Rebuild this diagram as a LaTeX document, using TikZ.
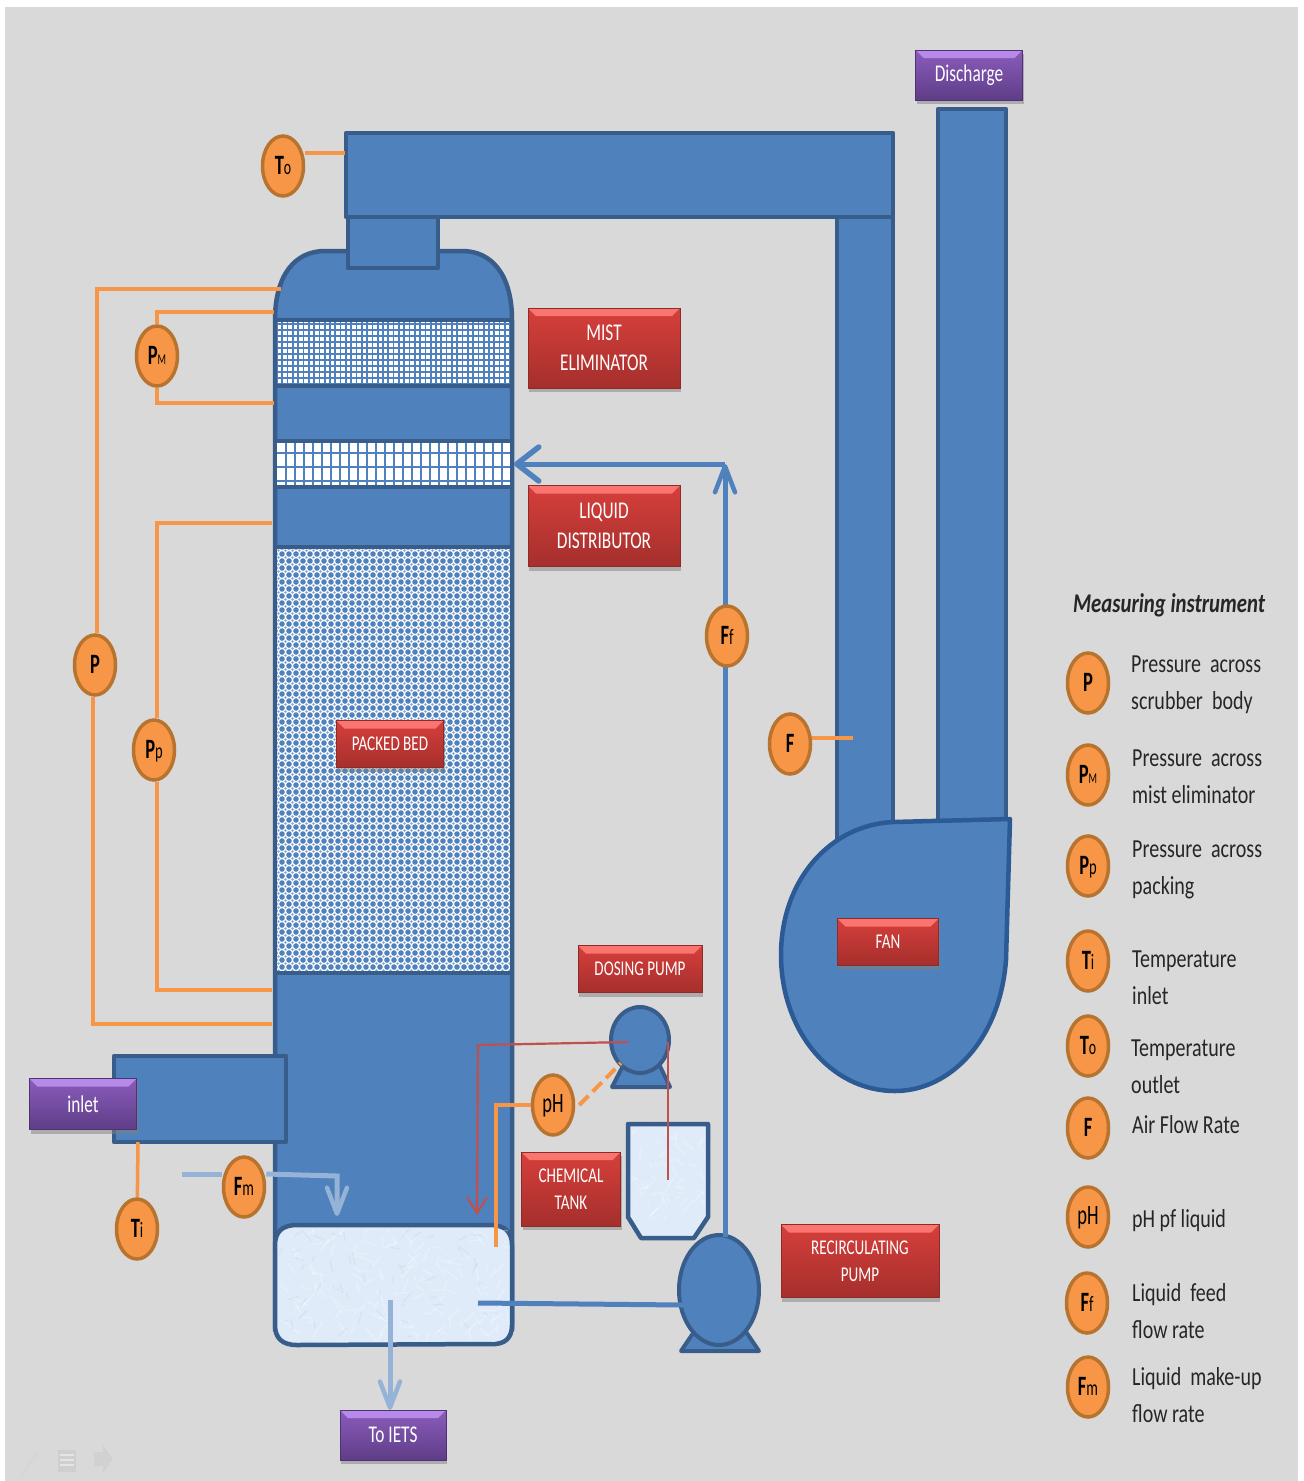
\documentclass[tikz,border=0pt]{standalone}
\usepackage{fontspec}
\setmainfont[FakeStretch=0.77]{Carlito}
\newfontfamily\instfont[FakeStretch=0.66]{Carlito}
\newfontfamily\boxfont[FakeStretch=0.72]{Carlito}
\usetikzlibrary{arrows.meta,shapes.geometric,shadows}
\definecolor{bgGray}{HTML}{D9D9D9}
\definecolor{steel}{HTML}{4F81BD}
\definecolor{steelDark}{HTML}{385D8A}
\definecolor{fanEdge}{HTML}{2B5A94}
\definecolor{steelLight}{HTML}{95B3D7}
\definecolor{liquid}{HTML}{DFEBF8}
\definecolor{instFill}{HTML}{F79646}
\definecolor{instEdge}{HTML}{B8732F}
\definecolor{dose}{HTML}{C0504D}
\definecolor{redTop}{HTML}{D63F3B}
\definecolor{redBot}{HTML}{A52F2C}
\definecolor{redEdge}{HTML}{8E2A27}
\definecolor{redLip}{HTML}{FA7570}
\definecolor{purTop}{HTML}{8A5CBC}
\definecolor{purBot}{HTML}{5F3D87}
\definecolor{purEdge}{HTML}{4F3272}
\definecolor{purLip}{HTML}{B58AE8}
\pgfdeclarelayer{front}
\pgfsetlayers{main,front}
\newcommand{\sub}[2]{{\fontsize{#1}{#1}\selectfont\mdseries #2}}
\tikzset{
  vessel/.style={draw=steelDark, fill=steel, line width=4.5pt, line join=round},
  tank/.style={draw=steelDark, fill=liquid, line width=4.5pt, line join=round},
  inst/.style={ellipse, draw=instEdge, fill=instFill, line width=3.5pt, minimum width=41pt, minimum height=60pt,
    inner sep=0pt, font=\instfont\fontsize{28}{28}\selectfont\bfseries, text=black, text depth=2pt},
  legendtext/.style={anchor=west, align=left, inner sep=0pt, text=black!85, font=\fontsize{26}{37}\selectfont},
  bevel/.style={path picture={
    \fill[#1] (path picture bounding box.north west) -- (path picture bounding box.north east)
      -- ([xshift=-8pt,yshift=-8pt]path picture bounding box.north east)
      -- ([xshift=8pt,yshift=-8pt]path picture bounding box.north west) -- cycle;}},
  redbox/.style={draw=redEdge, top color=redTop, bottom color=redBot, bevel=redLip,
    drop shadow={shadow xshift=1pt, shadow yshift=-4pt, opacity=.5}, inner sep=0pt, align=center, text=white,
    font=\boxfont\fontsize{24}{30}\selectfont},
  smallred/.style={redbox, font=\boxfont\fontsize{21}{27}\selectfont},
  purplebox/.style={draw=purEdge, top color=purTop, bottom color=purBot,
    bevel=purLip, drop shadow={shadow xshift=1pt, shadow yshift=-4pt, opacity=.5}, inner sep=0pt, align=center,
    text=white, font=\boxfont\fontsize{24}{30}\selectfont},
  wire/.style={draw=instFill, line width=3.5pt},
  pipe/.style={draw=steel, line width=5pt},
  feed/.style={draw=steelLight, line width=5pt},
  barb/.style={-{Straight Barb[round,length=26pt,width=20pt,line width=4.5pt]}},
  barbwide/.style={-{Straight Barb[round,length=22pt,width=34pt,line width=5.5pt]}},
}
\begin{document}
\begin{tikzpicture}[x=1pt,y=-1pt]
    \useasboundingbox (0,0) rectangle (1304,1481);
    \fill[bgGray] (5,7) rectangle (1298,1481);

    % Instruments and labels, on top of everything
    \begin{pgfonlayer}{front}
        \node[inst] (instTo) at (283,166) {T\sub{21}{o}};
        \node[inst] (instPM) at (157,356) {P\sub{15}{M}};
        \node[inst] (instP) at (95,665) {P};
        \node[inst] (instPp) at (154,750) {P\sub{22}{p}};
        \node[inst] (instFf) at (727,636) {F\sub{22}{f}};
        \node[inst] (instF) at (790,744) {F};
        \node[inst] (instPH) at (553,1105) {\mdseries pH};
        \node[inst] (instFm) at (244,1187) {F\sub{22}{m}};
        \node[inst] (instTi) at (137,1229) {T\sub{22}{i}};

        \node[redbox, minimum width=152pt, minimum height=80pt] (boxMist) at (604,348) {MIST\\ELIMINATOR};
        \node[redbox, minimum width=152pt, minimum height=81pt] (boxLiquid) at (604,526) {LIQUID\\DISTRIBUTOR};
        \node[smallred, minimum width=107pt, minimum height=47pt] (boxBed) at (390,744) {PACKED BED};
        \node[smallred, minimum width=124pt, minimum height=47pt] (boxDosing) at (640,969) {DOSING PUMP};
        \node[smallred, minimum width=99pt, minimum height=74pt] (boxChem) at (571,1189) {CHEMICAL\\TANK};
        \node[smallred, minimum width=158pt, minimum height=73pt] (boxRecirc) at (860,1261) {RECIRCULATING\\PUMP};
        \node[smallred, minimum width=101pt, minimum height=47pt] (boxFan) at (888,942) {FAN};

        \node[purplebox, minimum width=107pt, minimum height=50pt] (boxDischarge) at (969,75) {Discharge};
        \node[purplebox, minimum width=107pt, minimum height=51pt] (boxInlet) at (83,1104) {inlet};
        \node[purplebox, minimum width=106pt, minimum height=50pt] (boxIets) at (393,1435) {To IETS};
    \end{pgfonlayer}

    % Ducts and fan
    \draw[vessel] (938,109) rectangle (1006,830);
    \draw[vessel] (837,215) rectangle (893,850);
    \draw[vessel, draw=fanEdge] (893,822) -- (1010,819) -- (1006,960)
        .. controls (1000,1040) and (950,1091) .. (895,1091)
        .. controls (830,1091) and (781,1030) .. (781,955)
        .. controls (781,880) and (830,825) .. (893,822) -- cycle;

    % Column
    \draw[vessel] (275,320) .. controls (275,275) and (295,251) .. (325,251) -- (462,251)
        .. controls (492,251) and (512,275) .. (512,320) -- (512,1330) -- (275,1330) -- cycle;
    \draw[vessel] (114,1056) rectangle (286,1142);
    \draw[vessel] (348,210) rectangle (438,268);
    \draw[vessel] (346,133) rectangle (893,217);

    % Mist eliminator
    \fill[white] (275,320) rectangle (512,386);
    \begin{scope}
        \clip (275,320) rectangle (512,386);
        \foreach \xpos in {277,282.3,...,512}
            \draw[steel, line width=1.7pt] (\xpos,320) -- (\xpos,386);
        \foreach \ypos in {324,330,...,386}
            \draw[steel, line width=1.6pt] (275,\ypos) -- (512,\ypos);
    \end{scope}
    \draw[steelDark, line width=4pt] (275,320) rectangle (512,386);

    % Liquid distributor
    \fill[white] (275,441) rectangle (512,487);
    \begin{scope}
        \clip (275,441) rectangle (512,487);
        \foreach \xpos in {286,295,...,512}
            \draw[steel, line width=1.3pt] (\xpos,441) -- (\xpos,487);
        \foreach \ypos in {453,467,481}
            \draw[steel, line width=1.5pt] (275,\ypos) -- (512,\ypos);
    \end{scope}
    \draw[steelDark, line width=4pt] (275,441) rectangle (512,487);

    % Packed bed
    \fill[white] (275,547) rectangle (512,973);
    \begin{scope}
        \clip (275,547) rectangle (512,973);
        \foreach \row in {0,...,61} {
            \pgfmathsetmacro{\ypos}{547+\row*7}
            \foreach \col in {0,...,34} {
                \fill[steel] (275+\col*7,\ypos) circle (2.8pt);
                \fill[steel!70!white] (278.5+\col*7,\ypos+3.5) circle (1.3pt);
            }
        }
    \end{scope}
    \draw[steelDark, line width=4pt] (275,547) rectangle (512,973);

    % Sump, chemical tank, pumps
    \draw[tank] (297,1225) -- (490,1225) .. controls (505,1225) and (512,1232) .. (512,1245) -- (512,1325)
        .. controls (512,1338) and (505,1345) .. (490,1344) -- (297,1345)
        .. controls (282,1345) and (275,1338) .. (275,1325) -- (275,1245)
        .. controls (275,1232) and (282,1225) .. (297,1225) -- cycle;
    \draw[tank] (628,1124) -- (708,1124) -- (708,1217) -- (694,1238) -- (641,1238) -- (628,1217) -- cycle;
    \pgfmathsetseed{7}
    \begin{scope}
        \clip (279,1229) rectangle (508,1341);
        \foreach \n in {1,...,160}
            \draw[white, opacity=.28, line width=1.5pt] (279+229*rnd,1229+112*rnd) -- ++(30*rnd-15,30*rnd-15);
        \foreach \n in {1,...,60}
            \draw[steelLight, opacity=.14, line width=1.2pt] (279+229*rnd,1229+112*rnd) -- ++(24*rnd-12,24*rnd-12);
    \end{scope}
    \begin{scope}
        \clip (631,1127) rectangle (705,1222);
        \foreach \n in {1,...,60}
            \draw[white, opacity=.28, line width=1.5pt] (631+74*rnd,1127+95*rnd) -- ++(24*rnd-12,24*rnd-12);
    \end{scope}

    \draw[vessel, line width=4pt] (612,1087) -- (625,1062) -- (658,1062) -- (670,1087) -- cycle;
    \node[ellipse, draw=steelDark, fill=steel, line width=4pt, minimum width=58pt, minimum height=66pt] (pumpDosing) at (640,1040) {};
    \draw[vessel, line width=4pt] (681,1351) -- (702,1320) -- (738,1320) -- (759,1351) -- cycle;
    \node[ellipse, draw=steelDark, fill=steel, line width=4pt, minimum width=80pt, minimum height=110pt] (pumpRecirc) at (719,1290) {};

    % Named ends of the connectors
    \coordinate (tapTo) at (345,153);
    \coordinate (tapPTop) at (281,289);
    \coordinate (tapPBot) at (272,1024);
    \coordinate (tapPMTop) at (274,312);
    \coordinate (tapPMBot) at (274,403);
    \coordinate (tapPpTop) at (272,523);
    \coordinate (tapPpBot) at (272,990);
    \coordinate (tapF) at (853,738);
    \coordinate (tapTi) at (138,1142);
    \coordinate (tapPH) at (496,1247);
    \coordinate (tapDash) at (621,1063);
    \coordinate (recycleTurn) at (725,464);
    \coordinate (recycleEnd) at (514,464);
    \coordinate (recycleTop) at (725,1237);
    \coordinate (sumpOut) at (478,1303);
    \coordinate (sumpIn) at (683,1305);
    \coordinate (makeupStart) at (182,1174);
    \coordinate (makeupTurn) at (337,1176);
    \coordinate (makeupEnd) at (337,1216);
    \coordinate (drainStart) at (390,1300);
    \coordinate (doseStart) at (628,1042);
    \coordinate (doseTurn) at (478,1045);
    \coordinate (doseEnd) at (477,1215);
    \coordinate (suckTop) at (668,1042);
    \coordinate (suckEnd) at (668,1180);

    % Instrument lines
    \draw[wire] (instTo.east |- tapTo) -- (tapTo);
    \draw[wire] (tapPTop) -| ([xshift=2pt]instP.north);
    \draw[wire] ([xshift=-2pt]instP.south) |- (tapPBot);
    \draw[wire] (tapPMTop) -| (instPM);
    \draw[wire] (instPM) |- (tapPMBot);
    \draw[wire] (tapPpTop) -| ([xshift=3pt]instPp.north);
    \draw[wire] ([xshift=3pt]instPp.south) |- (tapPpBot);
    \draw[wire] (instF.east |- tapF) -- (tapF);
    \draw[wire] (tapTi) -- (instTi);
    \draw[wire] (instPH) -| (tapPH);
    \draw[wire, line width=4pt, dash pattern=on 13pt off 6pt] ([xshift=4pt]instPH.east) -- (tapDash);

    % Recirculation
    \draw[pipe] (sumpOut) -- (sumpIn);
    \draw[pipe] (recycleTop) -- (recycleTop |- instFf);
    \draw[pipe, barb] (recycleTop |- instFf) -- (recycleTurn);
    \draw[pipe, barbwide] (recycleTurn) -- (recycleEnd);

    % Make-up water and drain
    \draw[feed] (makeupStart) -- (instFm.west |- makeupStart);
    \draw[feed, barb] (instFm.east |- makeupStart) -- (makeupTurn) -- (makeupEnd);
    \draw[feed, barb] (drainStart) -- (drainStart |- boxIets.north);

    % Chemical dosing
    \draw[dose, line width=2.2pt, -{Straight Barb[length=16pt,width=20pt,line width=2pt]}] (doseStart) -- (doseTurn) -- (doseEnd);
    \draw[dose, line width=2.2pt] (suckTop) -- (suckEnd);

    % Slide controls
    \fill[black!16] (20,1476) -- (36,1452) -- (38,1454) -- (22,1478) -- cycle;
    \fill[black!19] (58,1450) rectangle (76,1472);
    \foreach \ypos in {1455,1460,1465}
        \draw[black!10, line width=1.2pt] (60,\ypos) -- (74,\ypos);
    \fill[black!18] (94,1452) -- (103,1452) -- (103,1445) -- (113,1459) -- (103,1473) -- (103,1466) -- (94,1466) -- cycle;

    % Legend
    \node[font=\fontsize{27}{30}\selectfont\bfseries\itshape, text=black!85] (legTitle) at (1169,605) {Measuring instrument};

    \node[inst] (legP) at (1088,683) {P};
    \node[inst] (legPM) at (1088,775) {P\sub{15}{M}};
    \node[inst] (legPp) at (1088,866) {P\sub{22}{p}};
    \node[inst] (legTi) at (1088,961) {T\sub{22}{i}};
    \node[inst] (legTo) at (1088,1046) {T\sub{21}{o}};
    \node[inst] (legF) at (1088,1128) {F};
    \node[inst] (legPH) at (1088,1217) {\mdseries pH};
    \node[inst] (legFf) at (1087,1303) {F\sub{22}{f}};
    \node[inst] (legFm) at (1088,1387) {F\sub{22}{m}};

    \node[legendtext] (txtP) at (1131,685) {Pressure\ \ across\\scrubber\ \ body};
    \node[legendtext] (txtPM) at (1132,777) {Pressure\ \ across\\mist eliminator};
    \node[legendtext] (txtPp) at (1132,870) {Pressure\ \ across\\packing};
    \node[legendtext] (txtTi) at (1132,978) {Temperature\\inlet};
    \node[legendtext] (txtTo) at (1131,1067) {Temperature\\outlet};
    \node[legendtext] (txtF) at (1132,1125) {Air Flow Rate};
    \node[legendtext] (txtPH) at (1132,1221) {pH pf liquid};
    \node[legendtext] (txtFf) at (1132,1311) {Liquid\ \ feed\\flow rate};
    \node[legendtext] (txtFm) at (1132,1395) {Liquid\ \ make-up\\flow rate};
\end{tikzpicture}
\end{document}
